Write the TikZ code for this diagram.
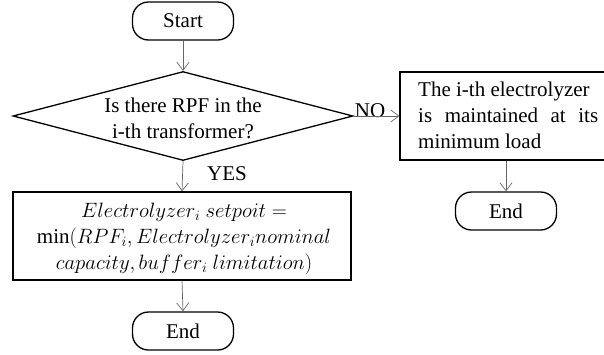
\documentclass[tikz,border=0pt]{standalone}
\usepackage{fontspec}
\setmainfont{Liberation Serif}
\usetikzlibrary{arrows.meta,shapes.geometric}
\begin{document}
\begin{tikzpicture}[x=1pt,y=-1pt,
  every node/.style={font=\fontsize{21}{26}\selectfont},
  term/.style={draw, line width=1.3pt, rounded corners=16pt, minimum width=101pt, minimum height=38pt, inner sep=0pt},
  proc/.style={draw, line width=1.3pt, inner sep=0pt},
  txt/.style={inner sep=0pt, align=center},
  flow/.style={draw=black!60, line width=0.7pt, -{Straight Barb[length=8pt,width=12pt,line width=0.7pt]}}]
\useasboundingbox (0,0) rectangle (604,354);
% shapes
\node[term] (start) at (183,21) {Start};
\node[diamond, draw, line width=1.3pt, minimum width=340pt, minimum height=89pt, inner sep=0pt] (q) at (183,116) {};
\node[txt] (qt) at (183,118) {Is there RPF in the\\ i-th transformer?};
\node[proc, minimum width=212pt, minimum height=88pt] (r) at (506,116) {};
\node[txt, anchor=west, align=left] (rt) at (418,115) {The i-th electrolyzer\\ \makebox[180pt][s]{is maintained at its}\\ minimum load};
\node[term] (end2) at (506,211) {End};
\node[proc, minimum width=338pt, minimum height=88pt] (b) at (182,236) {};
\node[txt] (bt) at (184,239) {$Electrolyzer_i\ setpoit =$\\ $\min(RPF_i, Electrolyzer_i nominal$\\ $capacity, buffer_i\ limitation)$};
\node[term] (end1) at (183,331) {End};
% labels
\node[txt, anchor=base] (yes) at (227,180) {YES};
\node[txt, anchor=base] (no) at (370,117) {NO};
% connectors
\draw[flow] (start) -- (q.north);
\draw[flow] (q.south) -- (b.north);
\draw[flow] (q.east) -- (r.west);
\draw[flow] (r.south) -- (end2.north);
\draw[flow] (b.south) -- (end1.north);
\end{tikzpicture}
\end{document}
